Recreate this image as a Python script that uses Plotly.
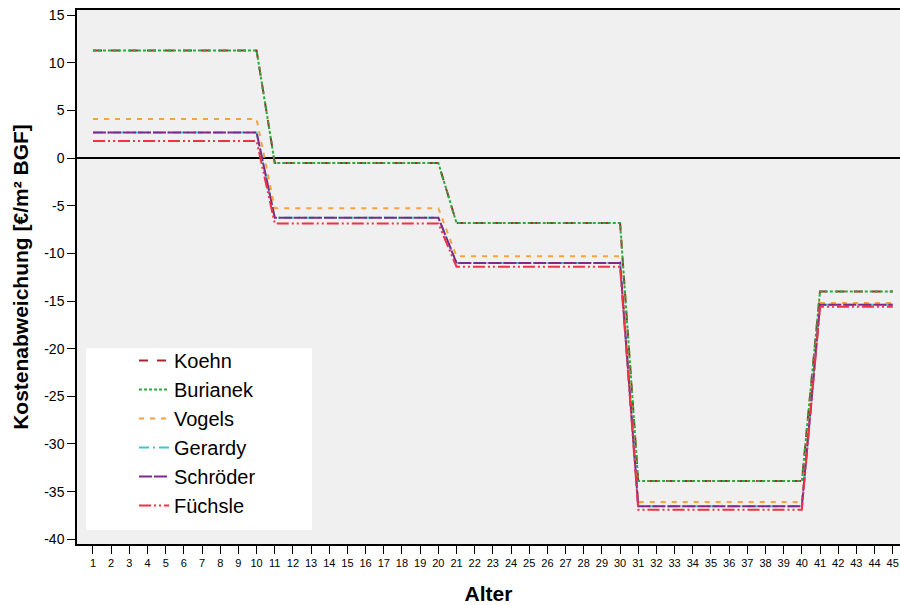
import plotly.graph_objects as go

alter = list(range(1, 46))

def steps(v):
    # values per block: ages 1-10, 11-20, 21-30, 31-40, 41-45
    return [v[0]] * 10 + [v[1]] * 10 + [v[2]] * 10 + [v[3]] * 10 + [v[4]] * 5

koehn_levels = [11.3, -0.5, -6.8, -33.9, -14.0]
burianek_levels = [11.3, -0.5, -6.8, -33.9, -14.0]
vogels_levels = [4.1, -5.25, -10.3, -36.1, -15.2]
gerardy_levels = [2.7, -6.25, -11.0, -36.55, -15.4]
schroeder_levels = [2.7, -6.25, -11.0, -36.55, -15.4]
fuechsle_levels = [1.8, -6.85, -11.4, -36.9, -15.6]

series_names = ["Koehn", "Burianek", "Vogels", "Gerardy", "Schröder", "Füchsle"]
series_levels = [koehn_levels, burianek_levels, vogels_levels, gerardy_levels,
                 schroeder_levels, fuechsle_levels]
colors = ["#A8262A", "#2EAA3C", "#F7A23C", "#3CC8CC", "#7E2A8C", "#EE3344"]
dashes = ["9px,9px", "3px,2px", "5px,6px", "10px,4px,2px,4px", "13px,2px",
          "12px,3px,2px,3px,2px,3px"]

y_ticks = [-40, -35, -30, -25, -20, -15, -10, -5, 0, 5, 10, 15]
y_tick_labels = ["-40", "-35", "-30", "-25", "-20", "-15", "-10", "-5", "0", "5", "10", "15"]

fig = go.Figure()
for i, (name, lv) in enumerate(zip(series_names, series_levels)):
    fig.add_trace(go.Scatter(
        x=alter, y=steps(lv), mode="lines", name=name, legendgroup=name,
        line=dict(color=colors[i], width=2, dash=dashes[i]),
    ))

W, H = 900, 605
ml, mr, mt, mb = 77, 0, 10, 61
pw, ph = W - ml - mr, H - mt - mb

def px_x(p):
    return (p - ml) / pw

def px_y(p):
    return (H - mb - p) / ph

fig.add_shape(type="rect", xref="paper", yref="paper",
              x0=px_x(86), x1=px_x(312), y0=px_y(530), y1=px_y(348),
              fillcolor="white", line=dict(width=0), layer="below")

fig.update_layout(
    width=W, height=H,
    margin=dict(l=ml, r=mr, t=mt, b=mb),
    paper_bgcolor="white", plot_bgcolor="#F0F0F0",
    font=dict(family="Liberation Sans, Arial, sans-serif", color="black"),
    showlegend=True,
    legend=dict(x=px_x(134), y=px_y(341), xanchor="left", yanchor="top",
                bgcolor="rgba(0,0,0,0)", font=dict(size=20),
                tracegroupgap=0, itemwidth=30),
    xaxis=dict(range=[0.12, 45.4], tickmode="array", tickvals=alter,
               ticktext=[str(a) for a in alter], ticks="outside", ticklen=8,
               tickwidth=1, tickcolor="black", showline=True, linecolor="black",
               linewidth=1.5, mirror=True, showgrid=False, zeroline=False,
               tickfont=dict(size=11),
               title=dict(text="Alter", font=dict(size=21, weight="bold"), standoff=19),
               automargin=False),
    yaxis=dict(range=[-40.5, 15.55], tickmode="array", tickvals=y_ticks,
               ticktext=y_tick_labels,
               ticks="outside", ticklen=8, tickwidth=1, tickcolor="black",
               showline=True, linecolor="black", linewidth=1.5, showgrid=False,
               zeroline=True, zerolinecolor="black", zerolinewidth=1.5,
               tickfont=dict(size=14),
               title=dict(text="Kostenabweichung [€/m² BGF]",
                          font=dict(size=21, weight="bold"), standoff=10),
               automargin=False),
)

fig.write_html("out.html",
               config={"displayModeBar": False},
               post_script="document.body.style.margin='0px';"
                           "document.body.style.overflow='hidden';")
